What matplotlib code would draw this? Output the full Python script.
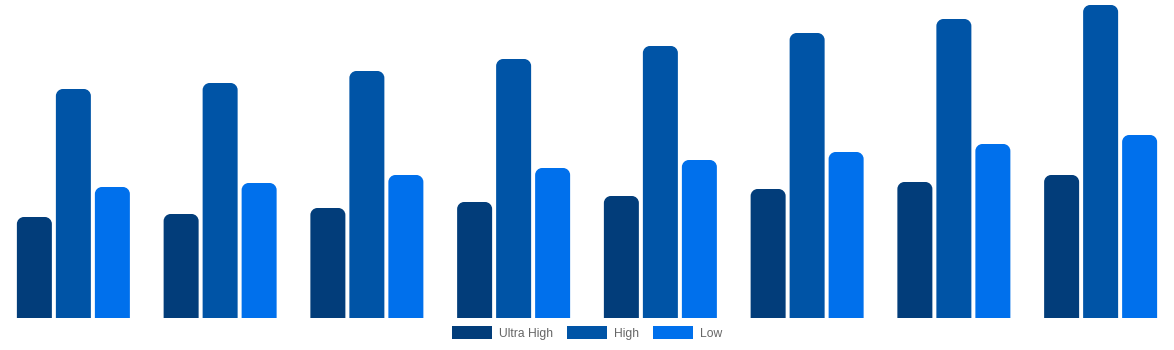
import matplotlib
matplotlib.use("Agg")
import matplotlib.pyplot as plt
from matplotlib.path import Path
from matplotlib.patches import PathPatch, Patch
import numpy as np

plt.rcParams['font.family'] = ['Liberation Sans', 'DejaVu Sans']

categories = ["1", "2", "3", "4", "5", "6", "7", "8"]
series_names = ["Ultra High", "High", "Low"]
ultra_high = [101, 104, 110, 116, 122, 129, 136, 143]
high = [229, 235, 247, 259, 272, 285, 299, 313]
low = [131, 135, 143, 150, 158, 166, 174, 183]
colors = ["#023d7a", "#0054a6", "#0070ec"]

W, H = 1174, 350
fig = plt.figure(figsize=(W / 100, H / 100), dpi=100)
ax = fig.add_axes([0, (H - 318) / H, 1, 313 / H])
ax.set_xlim(-0.5, len(categories) - 0.5)
ax.set_ylim(0, 313)
ax.axis("off")

x = np.arange(len(categories))
group_px = W / len(categories)
bw = 35 / group_px
step = 39 / group_px
offsets = [-step, 0, step]

def rounded_top(x0, x1, y0, y1, rx, ry):
    k = 0.5523
    verts = [
        (x0, y0), (x0, y1 - ry),
        (x0, y1 - ry + k * ry), (x0 + rx - k * rx, y1), (x0 + rx, y1),
        (x1 - rx, y1),
        (x1 - rx + k * rx, y1), (x1, y1 - ry + k * ry), (x1, y1 - ry),
        (x1, y0), (x0, y0),
    ]
    codes = [Path.MOVETO, Path.LINETO,
             Path.CURVE4, Path.CURVE4, Path.CURVE4,
             Path.LINETO,
             Path.CURVE4, Path.CURVE4, Path.CURVE4,
             Path.LINETO, Path.CLOSEPOLY]
    return Path(verts, codes)

rad_px = 7
rx = rad_px / group_px
ry = rad_px * 313 / 313

for vals, off, col in zip([ultra_high, high, low], offsets, colors):
    bars = ax.bar(x + off, vals, width=bw, color=col)
    for b in bars:
        bx, by = b.get_x(), b.get_y()
        bwid, bh = b.get_width(), b.get_height()
        b.set_visible(False)
        p = rounded_top(bx, bx + bwid, by, by + bh, rx, min(ry, bh))
        ax.add_patch(PathPatch(p, facecolor=col, edgecolor="none"))

handles = [Patch(facecolor=c, edgecolor="none") for c in colors]
fig.legend(handles, series_names, loc="center", bbox_to_anchor=(0.5, 1 - 333 / H),
           ncol=3, frameon=False, fontsize=8.7, labelcolor="#666666",
           handlelength=3.35, handleheight=1.25, handletextpad=0.55,
           columnspacing=1.15, borderpad=0)

fig.savefig("out.png", dpi=100)
